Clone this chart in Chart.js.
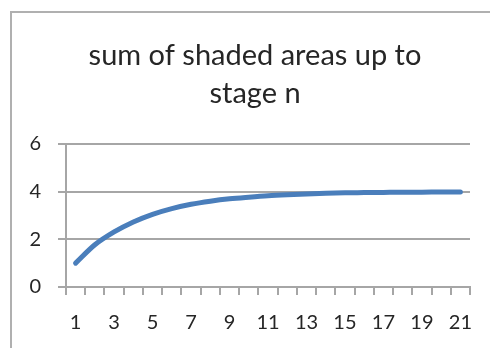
<!DOCTYPE html>
<html>
<head>
<meta charset="utf-8">
<script src="https://cdn.jsdelivr.net/npm/chart.js@4"></script>
<style>
  html, body { margin: 0; padding: 0; background: #fff; }
  #frame { position: absolute; left: 10px; top: 11px; width: 600px; height: 400px;
           border-left: 2px solid #b0b0b0; border-top: 2px solid #b0b0b0; }
  #wrap { position: absolute; left: 0; top: 0; width: 490px; height: 348px; }
</style>
</head>
<body>
<div id="frame"></div>
<div id="wrap"><canvas id="chart"></canvas></div>
<script>
// stage numbers along the x axis
const stages = ['1','2','3','4','5','6','7','8','9','10','11','12','13','14','15','16','17','18','19','20','21'];
// sum of shaded areas
const sums = [1.00, 1.77, 2.31, 2.73, 3.05, 3.29, 3.47, 3.60, 3.70, 3.77, 3.83, 3.87, 3.90, 3.93, 3.95, 3.96, 3.97, 3.98, 3.98, 3.99, 3.99];
const yTicks = [0, 2, 4, 6];
const titleLines = ['sum of shaded areas up to', 'stage n'];

const gridColor = '#a6a6a6';
const textColor = '#262626';
const fontFamily = 'Lato, "Open Sans", sans-serif';

// the original centres its title a little right of the canvas middle
const shiftTitle = {
  id: 'shiftTitle',
  afterLayout(chart) {
    const t = chart.titleBlock;
    if (t) { t.left = 40; t.right = 470; }
  }
};

new Chart(document.getElementById('chart'), {
  type: 'line',
  data: {
    labels: stages,
    datasets: [{
      data: sums,
      borderColor: '#4a7ebb',
      borderWidth: 5,
      borderCapStyle: 'round',
      borderJoinStyle: 'round',
      cubicInterpolationMode: 'monotone',
      pointRadius: 0,
      fill: false
    }]
  },
  plugins: [shiftTitle],
  options: {
    responsive: true,
    maintainAspectRatio: false,
    animation: false,
    layout: { padding: { left: 0, right: 20, top: 0, bottom: 0 } },
    plugins: {
      legend: { display: false },
      tooltip: { enabled: false },
      title: {
        display: true,
        text: titleLines,
        color: textColor,
        font: { family: fontFamily, size: 29, weight: 'normal', lineHeight: '38.5px' },
        padding: { top: 36, bottom: 31 }
      }
    },
    scales: {
      x: {
        offset: true,
        grid: { offset: true, drawOnChartArea: false, drawTicks: true, tickLength: 8, color: gridColor, lineWidth: 2 },
        border: { color: gridColor, width: 2 },
        ticks: {
          autoSkip: false,
          maxRotation: 0,
          padding: 16,
          color: textColor,
          font: { family: fontFamily, size: 20 },
          callback: (v, i) => (i % 2 === 0 ? stages[i] : '')
        },
        afterFit: s => { s.height = 61; }
      },
      y: {
        min: yTicks[0],
        max: yTicks[yTicks.length - 1],
        afterBuildTicks: s => { s.ticks = yTicks.map(v => ({ value: v })); },
        grid: { color: gridColor, tickLength: 8, lineWidth: 2 },
        border: { color: gridColor, width: 2 },
        ticks: {
          padding: 17,
          color: textColor,
          font: { family: fontFamily, size: 20 }
        },
        afterFit: s => { s.width = 66; }
      }
    }
  }
});
</script>
</body>
</html>
